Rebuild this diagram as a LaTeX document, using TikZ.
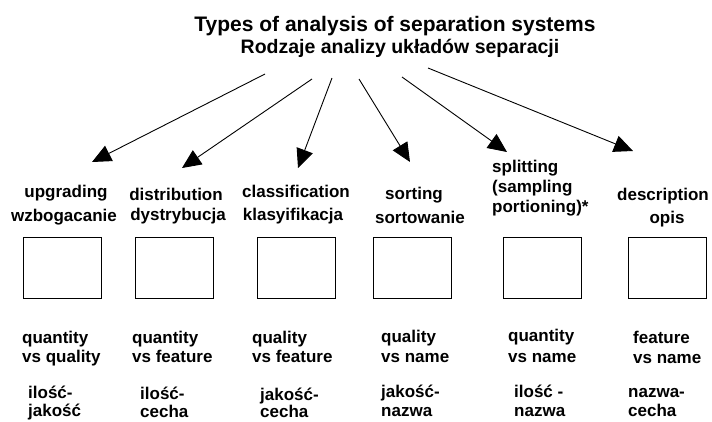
\documentclass[tikz,border=0pt]{standalone}
\usepackage{fontspec}
\setmainfont{Liberation Sans}
\usetikzlibrary{arrows.meta}
\tikzset{
  lbl/.style={inner sep=0pt, anchor=base, font=\fontsize{17}{19}\selectfont\bfseries},
  lblw/.style={inner sep=0pt, anchor=base west, font=\fontsize{17}{19}\selectfont\bfseries},
  box/.style={draw, line width=1pt, minimum width=78pt, minimum height=61pt, inner sep=0pt},
  arr/.style={line width=0.9pt, -{Triangle[length=19pt,width=17pt]}}
}
\begin{document}
\begin{tikzpicture}[x=1pt,y=-1pt]
\useasboundingbox (0,0) rectangle (712,421);
% titles
\node[inner sep=0pt, anchor=base, font=\fontsize{21}{24}\selectfont\bfseries] (title) at (395,31) {Types of analysis of separation systems};
\node[inner sep=0pt, anchor=base, font=\fontsize{19.5}{22}\selectfont\bfseries] (subtitle) at (400,53) {Rodzaje analizy układów separacji};
% arrow coordinates
\coordinate (s1) at (265,74); \coordinate (e1) at (92,162);
\coordinate (s2) at (312,79); \coordinate (e2) at (182,168);
\coordinate (s3) at (332,78); \coordinate (e3) at (298,168);
\coordinate (s4) at (359,79); \coordinate (e4) at (410,162);
\coordinate (s5) at (402,77); \coordinate (e5) at (507,152);
\coordinate (s6) at (428,68); \coordinate (e6) at (633,151);
\foreach \i in {1,...,6} { \draw[arr] (s\i) -- (e\i); }
% top labels
\node[lbl] (t1a) at (66,197) {upgrading};
\node[lbl] (t1b) at (64,221) {wzbogacanie};
\node[lbl] (t2a) at (176,200) {distribution};
\node[lbl] (t2b) at (178,220) {dystrybucja};
\node[lbl] (t3a) at (296,197) {classification};
\node[lbl] (t3b) at (293,220) {klasyifikacja};
\node[lbl] (t4a) at (414,199) {sorting};
\node[lbl] (t4b) at (420,223) {sortowanie};
\node[lblw] (t5a) at (492,172) {splitting};
\node[lblw] (t5b) at (492,192) {(sampling};
\node[lblw] (t5c) at (492,212) {portioning)*};
\node[lbl] (t6a) at (663,200) {description};
\node[lbl] (t6b) at (667,223) {opis};
% boxes
\node[box] (b1) at (62.5,267.5) {};
\node[box] (b2) at (174,267.5) {};
\node[box] (b3) at (296.5,267.5) {};
\node[box] (b4) at (412,267.5) {};
\node[box] (b5) at (542.5,267.5) {};
\node[box] (b6) at (667.5,267.5) {};
% bottom labels
\node[lblw] (q1a) at (22,343) {quantity};
\node[lblw] (q1b) at (22,362) {vs quality};
\node[lblw] (p1a) at (28,398) {ilość-};
\node[lblw] (p1b) at (28,416) {jakość};
\node[lblw] (q2a) at (132,343) {quantity};
\node[lblw] (q2b) at (132,362) {vs feature};
\node[lblw] (p2a) at (140,399) {ilość-};
\node[lblw] (p2b) at (140,417) {cecha};
\node[lblw] (q3a) at (252,343) {quality};
\node[lblw] (q3b) at (252,362) {vs feature};
\node[lblw] (p3a) at (260,400) {jakość-};
\node[lblw] (p3b) at (260,417) {cecha};
\node[lblw] (q4a) at (381,342) {quality};
\node[lblw] (q4b) at (381,362) {vs name};
\node[lblw] (p4a) at (381,397) {jakość-};
\node[lblw] (p4b) at (381,416) {nazwa};
\node[lblw] (q5a) at (508,341) {quantity};
\node[lblw] (q5b) at (508,362) {vs name};
\node[lblw] (p5a) at (514,397) {ilość -};
\node[lblw] (p5b) at (514,416) {nazwa};
\node[lblw] (q6a) at (633,343) {feature};
\node[lblw] (q6b) at (633,363) {vs name};
\node[lblw] (p6a) at (628,397) {nazwa-};
\node[lblw] (p6b) at (628,416) {cecha};
\end{tikzpicture}
\end{document}
